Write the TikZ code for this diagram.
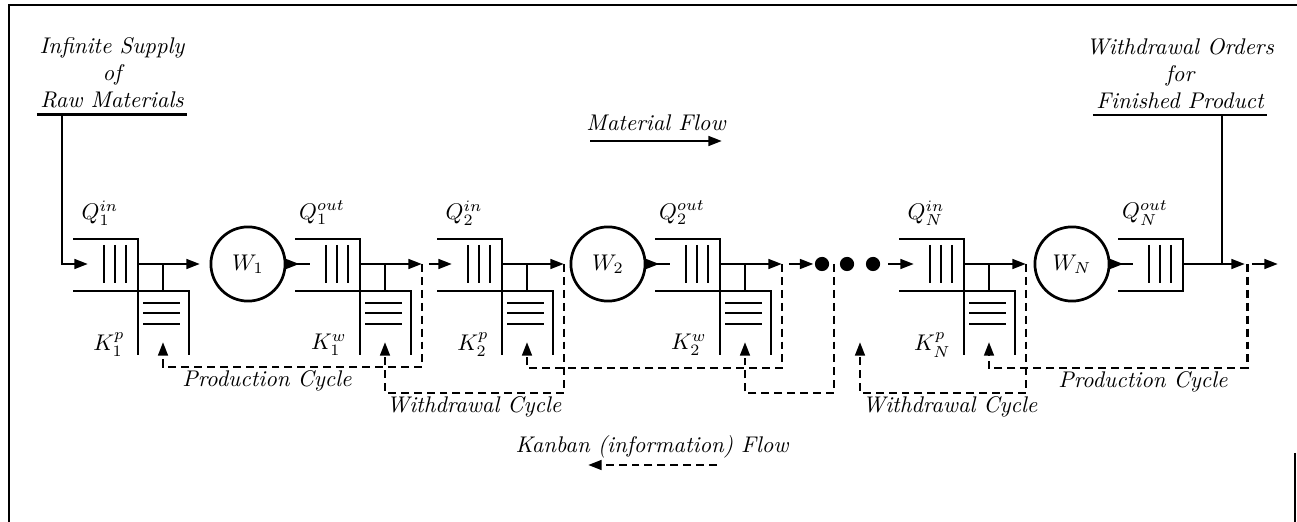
\documentclass[tikz,border=0pt]{standalone}
\usepackage{tikz}
\usetikzlibrary{arrows.meta}

\begin{document}
\begin{tikzpicture}[x=0.0155cm, y=-0.0155cm, line width=1.2pt,
    flow/.style={-{Triangle[length=6pt,width=4.2pt]}},
    info/.style={flow, dash pattern=on 3.5pt off 2.2pt},
    txt/.style={font=\itshape, inner sep=0pt},
    station/.style={circle, draw, minimum size=1.15cm, inner sep=0pt},
    dot/.style={circle, fill, minimum size=0.22cm, inner sep=0pt}]

\path[use as bounding box, fill=white] (0,0) rectangle (1297,522);
% Frame
\draw[line width=0.8pt] (9,522) -- (9,5) -- (1297,5);
\draw[line width=0.6pt] (1295,453) -- (1295,522);

% Supply and demand
\node[txt, anchor=base, inner xsep=1pt, inner ysep=2pt] (raw) at (112,108) {Raw Materials};
\node[txt, align=center, anchor=south] (supply) at (raw.north) {Infinite Supply\\of};
\node[txt, anchor=base, inner xsep=1pt, inner ysep=2pt] (fin) at (1180,109) {Finished Product};
\node[txt, align=center, anchor=south] (orders) at (fin.north) {Withdrawal Orders\\for};
\draw (raw.south west) -- (raw.south east);
\draw (fin.south west) -- (fin.south east);

% Queues with kanban posts
\foreach \x/\n/\q/\k in {73/q1in/Q_1^{in}/K_1^p, 295/q1out/Q_1^{out}/K_1^w,
    437/q2in/Q_2^{in}/K_2^p, 655/q2out/Q_2^{out}/K_2^w, 899/qnin/Q_N^{in}/K_N^p}{
  \draw (\x,239) -- (\x+65,239) -- (\x+65,355);
  \draw (\x,291) -- (\x+116,291) -- (\x+116,355);
  \foreach \b in {31,42,53} \draw (\x+\b,245) -- (\x+\b,283);
  \foreach \h in {303,313,324} \draw (\x+70,\h) -- (\x+107,\h);
  \coordinate (\n-ent) at (\x+15,264);
  \coordinate (\n-out) at (\x+65,264);
  \coordinate (\n-tip) at (\x+127,264);
  \coordinate (\n-post) at (\x+90,291);
  \coordinate (\n-k) at (\x+90,342);
  \node (\n-lab) at (\x+27,213) {$\q$};
  \node[anchor=east, inner sep=0pt] (\n-klab) at (\x+53,345) {$\k$};
  \draw[flow] (\n-out) -- (\n-tip);
  \draw (\n-post) -- (\n-post |- \n-out);
}

% Output buffer
\draw (1118,239) -- (1183,239) -- (1183,291) -- (1118,291);
\foreach \b in {31,42,53} \draw (1118+\b,245) -- (1118+\b,283);
\coordinate (qnout-ent) at (1133,264);
\coordinate (qnout-out) at (1183,264);
\coordinate (qnout-tip) at (1245,264);
\node (qnout-lab) at (1145,213) {$Q_N^{out}$};

% Stations
\node[station] (W1) at (248,264) {$W_1$};
\node[station] (W2) at (608,264) {$W_2$};
\node[station] (WN) at (1072,264) {$W_N$};
\foreach \w/\q in {W1/q1out, W2/q2out, WN/qnout} {
  \draw (\w.east) -- (\q-ent);
  \draw[flow] (\w.east) -- ++(13,0);
}

\node[dot] (d1) at (822,264) {};
\node[dot] (d2) at (847,264) {};
\node[dot] (d3) at (873,264) {};

% Material flow
\coordinate (src) at (62,264);
\coordinate (snk) at (1222,264);
\coordinate (exit) at (1278,264);
\draw[flow] (raw.south -| src) -- (src) -- (q1in-ent);
\draw[flow] ([xshift=3pt]q1out-tip) -- (q2in-ent);
\draw[flow] ([xshift=3pt]q2out-tip) -- (d1);
\draw[flow] ([xshift=3pt]d3.east) -- (qnin-ent);
\draw[flow] (qnout-out) -- (qnout-tip);
\draw (fin.south -| snk) -- (snk);
\draw[flow] ([xshift=3pt]qnout-tip) -- (exit);

% Kanban loops
\coordinate (w2-gap) at (834,264);
\coordinate (wn-k) at (860,342);
\draw[info] (q1out-tip) -- ++(0,103) -| (q1in-k);
\draw[info] (q2in-tip) -- ++(0,129) -| (q1out-k);
\draw[info] (q2out-tip) -- ++(0,104) -| (q2in-k);
\draw[info] (w2-gap) -- ++(0,129) -| (q2out-k);
\draw[info] (qnin-tip) -- ++(0,129) -| (wn-k);
\draw[info] ([xshift=1pt]qnout-tip) -- ++(0,104) -| (qnin-k);

\node[txt] (pc1) at (267,381) {Production Cycle};
\node[txt] (wc1) at (474,407) {Withdrawal Cycle};
\node[txt] (wcn) at (950,407) {Withdrawal Cycle};
\node[txt] (pcn) at (1143,382) {Production Cycle};

% Legend
\node[txt] (mflow) at (656,123) {Material Flow};
\coordinate (mf-a) at (590,141);
\coordinate (mf-b) at (722,141);
\draw[flow] (mf-a) -- (mf-b);
\node[txt] (kflow) at (652,447) {Kanban (information) Flow};
\coordinate (kf-a) at (717,465);
\coordinate (kf-b) at (588,465);
\draw[info] (kf-a) -- (kf-b);
\end{tikzpicture}
\end{document}
